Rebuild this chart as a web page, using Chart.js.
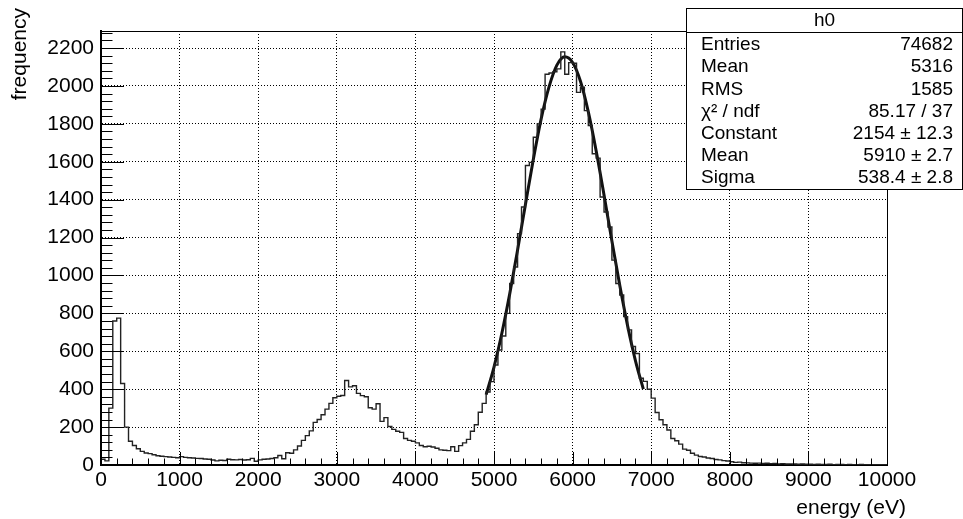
<!DOCTYPE html>
<html>
<head>
<meta charset="utf-8">
<script src="https://cdn.jsdelivr.net/npm/chart.js@4.4.1/dist/chart.umd.min.js"></script>
<style>
  html, body { margin: 0; padding: 0; background: #fff; }
  #wrap { width: 963px; height: 519px; }
</style>
</head>
<body>
<div id="wrap"><canvas id="h0Chart" width="963" height="519"></canvas></div>
<script>
// Binning of the histogram
const binWidth = 50;
const xMin = 0;
const xMax = 10000;
const yMax = 2290;

// Counts per 50 eV bin, 0 .. 10000 eV (200 bins)
const counts = [
    30, 22, 300, 760, 775, 430, 200, 125, 103, 86,
    72, 63, 60, 54, 49, 46, 44, 42, 40, 38,
    44, 40, 38, 37, 35, 34, 32, 30, 26, 22,
    25, 24, 30, 28, 27, 29, 26, 28, 35, 20,
    27, 30, 32, 34, 38, 50, 33, 65, 62, 80,
    100, 130, 155, 180, 225, 240, 265, 295, 325, 355,
    363, 367, 446, 412, 418, 378, 366, 360, 302, 295,
    323, 230, 250, 203, 188, 178, 172, 140, 130, 125,
    117, 103, 96, 99, 95, 88, 80, 78, 76, 96,
    72, 102, 117, 135, 178, 212, 278, 325, 385, 440,
    528, 607, 681, 800, 958, 1045, 1221, 1361, 1580, 1597,
    1729, 1800, 1878, 2062, 2068, 2075, 2090, 2180, 2062, 2123,
    2120, 1966, 1993, 1870, 1791, 1642, 1619, 1414, 1335, 1256,
    1081, 958, 897, 783, 713, 625, 588, 458, 441, 400,
    353, 277, 239, 212, 185, 140, 128, 110, 84, 78,
    62, 52, 45, 42, 37, 34, 29, 27, 23, 21,
    17, 14, 15, 12, 11, 10, 9, 10, 8, 9,
    7, 8, 6, 7, 5, 6, 5, 4, 5, 4,
    4, 3, 4, 3, 3, 4, 2, 3, 3, 2,
    3, 2, 2, 3, 2, 2, 1, 2, 2, 1
];

// Gaussian fit curve, every 100 eV
const fitEnergy = [4900, 5000, 5100, 5200, 5300, 5400, 5500, 5600, 5700, 5800, 5900,
                   6000, 6100, 6200, 6300, 6400, 6500, 6600, 6700, 6800, 6900];
const fitValues = [371, 517, 695, 903, 1134, 1375, 1612, 1826, 1995, 2110, 2154,
                   2124, 2025, 1863, 1657, 1424, 1182, 948, 734, 550, 400];

// Stats box text
const statsTitle = 'h0';
const statsLabels = ['Entries', 'Mean', 'RMS', 'χ² / ndf', 'Constant', 'Mean', 'Sigma'];
const statsValues = ['74682', '5316', '1585', '85.17 / 37', '2154 ± 12.3', '5910 ± 2.7', '538.4 ± 2.8'];

// Axis titles
const xTitle = 'energy (eV)';
const yTitle = 'frequency';

const fontFamily = "'Liberation Sans', Arial, Helvetica, sans-serif";

// Histogram outline points (bin left edges, closed at both ends)
const histPoints = [{x: xMin, y: 0}];
counts.forEach((c, i) => histPoints.push({x: xMin + i * binWidth, y: c}));
histPoints.push({x: xMax, y: 0});

const fitPoints = fitEnergy.map((e, i) => ({x: e, y: fitValues[i]}));

// Frame, inward ticks, titles and stats box plugin block
const rootStyle = {
    id: 'rootStyle',
    afterDatasetsDraw(chart) {
        const {ctx, chartArea: a, scales: {x, y}} = chart;
        ctx.save();
        ctx.strokeStyle = '#000';
        ctx.lineWidth = 1;
        // top and right edge of frame
        ctx.beginPath();
        ctx.moveTo(a.left, a.top + 0.5);
        ctx.lineTo(a.right + 0.5, a.top + 0.5);
        ctx.lineTo(a.right + 0.5, a.bottom);
        ctx.stroke();
        // ticks pointing into the frame
        ctx.beginPath();
        for (let v = 0; v <= yMax; v += 40) {
            const py = Math.round(y.getPixelForValue(v)) + 0.5;
            const len = v % 200 === 0 ? 23 : 11.5;
            ctx.moveTo(a.left, py);
            ctx.lineTo(a.left + len, py);
        }
        for (let v = xMin; v <= xMax; v += 200) {
            const px = Math.round(x.getPixelForValue(v)) + 0.5;
            const len = v % 1000 === 0 ? 13 : 6.5;
            ctx.moveTo(px, a.bottom);
            ctx.lineTo(px, a.bottom - len);
        }
        ctx.stroke();
        ctx.restore();
    },
    afterDraw(chart) {
        const {ctx} = chart;
        ctx.save();
        ctx.fillStyle = '#000';
        ctx.font = '21px ' + fontFamily;
        // x title, right aligned
        ctx.textAlign = 'right';
        ctx.textBaseline = 'alphabetic';
        ctx.fillText(xTitle, 906, 514);
        // y title, rotated, aligned to top
        ctx.save();
        ctx.translate(26, 8);
        ctx.rotate(-Math.PI / 2);
        ctx.textAlign = 'right';
        ctx.fillText(yTitle, 0, 0);
        ctx.restore();

        // stats box
        const bx = 686.5, by = 8.5, bw = 276, bh = 181;
        ctx.fillStyle = '#fff';
        ctx.fillRect(bx, by, bw, bh);
        ctx.strokeStyle = '#000';
        ctx.lineWidth = 1;
        ctx.strokeRect(bx, by, bw, bh);
        ctx.beginPath();
        ctx.moveTo(bx, 32.5);
        ctx.lineTo(bx + bw, 32.5);
        ctx.stroke();
        ctx.fillStyle = '#000';
        ctx.font = '19px ' + fontFamily;
        ctx.textBaseline = 'middle';
        ctx.textAlign = 'center';
        ctx.fillText(statsTitle, bx + bw / 2, 21);
        statsLabels.forEach((lab, i) => {
            const ry = 45 + i * 22.2;
            ctx.textAlign = 'left';
            ctx.fillText(lab, 701, ry);
            ctx.textAlign = 'right';
            ctx.fillText(statsValues[i], 953, ry);
        });
        ctx.restore();
    }
};  // End plugin

// Setup block
const h0Data = {
    datasets: [{
        label: 'h0',
        data: histPoints,
        stepped: 'before',
        borderColor: '#222',
        borderWidth: 1.4,
        pointRadius: 0,
        fill: false,
    }, {
        label: 'gaus',
        data: fitPoints,
        cubicInterpolationMode: 'monotone',
        borderColor: '#111',
        borderWidth: 3,
        pointRadius: 0,
        fill: false,
    }]  // End datasets
};  // End data

// Config block
const h0Config = {
    type: 'line',
    data: h0Data,
    options: {
        responsive: false,
        animation: false,
        devicePixelRatio: 1,
        layout: {
            padding: {left: 0, right: 76, top: 31, bottom: 0}
        },
        plugins: {
            legend: {display: false},
            tooltip: {enabled: false},
        },  // End plugins
        scales: {
            x: {
                type: 'linear',
                min: xMin,
                max: xMax,
                afterFit(scale) { scale.height = 54; },
                border: {display: true, color: '#000', width: 2, dash: [1, 2]},
                grid: {color: '#000', lineWidth: 1, drawTicks: false},
                ticks: {
                    stepSize: 1000,
                    padding: 3,
                    color: '#000',
                    maxRotation: 0,
                    autoSkip: false,
                    includeBounds: false,
                    // plain numbers, no thousands separator
                    callback: (v) => String(v),
                    font: {family: fontFamily, size: 21}
                }
            },
            y: {
                type: 'linear',
                min: 0,
                max: yMax,
                afterFit(scale) { scale.width = 101; },
                border: {display: true, color: '#000', width: 2, dash: [1, 2]},
                grid: {color: '#000', lineWidth: 1, drawTicks: false},
                ticks: {
                    stepSize: 200,
                    padding: 7,
                    color: '#000',
                    autoSkip: false,
                    includeBounds: false,
                    callback: (v) => String(v),
                    font: {family: fontFamily, size: 21}
                }
            }
        }  // End scales
    },  // End options
    plugins: [rootStyle]
};  // End config

// render / init block
const h0Chart = new Chart(
    document.getElementById('h0Chart'),
    h0Config
);  // End Chart
</script>
</body>
</html>
